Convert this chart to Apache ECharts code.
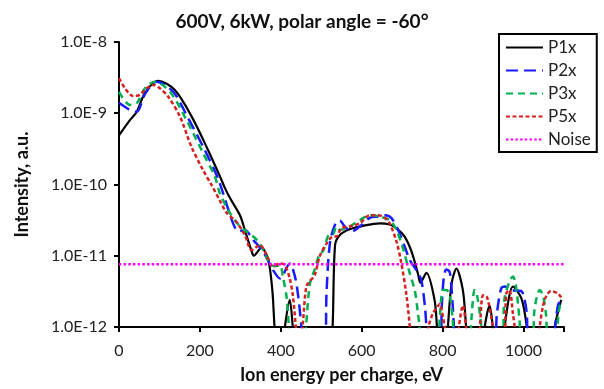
<!DOCTYPE html>
<html>
<head>
<meta charset="utf-8">
<script src="https://cdn.jsdelivr.net/npm/echarts@6/dist/echarts.min.js"></script>
<style>
html,body{margin:0;padding:0;background:#fff;}
#chart{width:604px;height:389px;}
</style>
</head>
<body>
<div id="chart"></div>
<script>
// Data: [ion energy per charge (eV), intensity (a.u.)]
// Values below the 1.0E-12 axis floor are placeholders that fall off the plot.
const titleText = "600V, 6kW, polar angle = -60°";
const xTicks = [0, 200, 400, 600, 800, 1000];
const yTicks = [1e-12, 1e-11, 1e-10, 1e-9, 1e-8];
const noiseLevel = 7.6e-12;

const p1x = [
  [0,4.9e-10],[27,8.0e-10],[44,1.05e-9],[64,1.92e-9],[96,2.86e-9],[138,2.12e-9],[180,8.9e-10],
  [220,3.05e-10],[249,1.32e-10],[262,8.9e-11],[274,6.5e-11],[299,3.7e-11],[311,2.3e-11],
  [328,1.15e-11],[333,1.0e-11],[352,1.3e-11],[369,8.7e-12],[379,3.3e-12],[384,1.1e-12],[388,5e-13],
  [405,5e-13],[410,1.0e-12],[422,2.4e-12],[429,1.1e-12],[433,5e-13],
  [522,5e-13],[528,1.0e-12],[534,1.4e-11],[546,1.95e-11],[570,2.35e-11],[603,2.63e-11],
  [644,2.85e-11],[669,2.75e-11],[686,2.43e-11],[706,1.86e-11],[723,1.15e-11],[739,5.6e-12],
  [745,4.2e-12],[760,5.75e-12],[780,2.4e-12],[786,1.0e-12],[790,5e-13],
  [809,5e-13],[813,1.0e-12],[822,4.0e-12],[834,6.6e-12],[850,3.3e-12],[858,1.0e-12],[862,5e-13],
  [900,5e-13],[904,1.0e-12],[916,2.0e-12],[924,1.0e-12],[928,5e-13],
  [949,5e-13],[953,1.0e-12],[974,3.7e-12],[995,2.5e-12],[1008,1.0e-12],[1012,5e-13],
  [1073,5e-13],[1077,1.0e-12],[1093,2.4e-12]
];
const p2x = [
  [0,1.4e-9],[27,1.11e-9],[44,1.05e-9],[64,1.85e-9],[93,2.77e-9],[134,2.0e-9],[171,8.5e-10],
  [212,3.05e-10],[245,1.2e-10],[282,2.85e-11],[295,2.2e-11],[311,2.3e-11],[332,1.66e-11],
  [356,1.15e-11],[381,6.3e-12],[398,4.8e-12],[422,7.8e-12],[435,5.1e-12],[443,2.7e-12],
  [451,1.0e-12],[455,5e-13],
  [509,5e-13],[513,3.0e-12],[522,1.6e-11],[537,3.0e-11],[546,3.1e-11],[558,2.57e-11],
  [575,2.19e-11],[595,2.57e-11],[620,3.4e-11],[640,3.55e-11],[657,3.7e-11],[673,3.4e-11],
  [690,2.3e-11],[706,1.35e-11],[719,8.7e-12],[735,6.3e-12],[747,4.6e-12],[756,2.0e-12],
  [760,1.0e-12],[764,5e-13],
  [794,5e-13],[798,2.0e-12],[803,5.0e-12],[809,6.4e-12],[817,6.0e-12],[821,4.1e-12],
  [825,1.95e-12],[828,1.0e-12],[832,5e-13],
  [928,5e-13],[934,1.5e-12],[945,3.5e-12],[955,3.7e-12],[965,3.3e-12],[994,3.2e-12],
  [1002,2.5e-12],[1008,1.55e-12],[1012,5e-13],
  [1070,5e-13],[1078,1.0e-12],[1085,2.0e-12],[1093,2.5e-12]
];
const p3x = [
  [0,2.0e-9],[27,1.31e-9],[44,1.38e-9],[64,2.24e-9],[89,2.77e-9],[126,2.0e-9],[167,8.0e-10],
  [208,2.75e-10],[237,1.29e-10],[249,7.6e-11],[274,4.0e-11],[299,2.57e-11],[315,2.19e-11],
  [332,1.86e-11],[348,1.48e-11],[369,8.7e-12],[385,7.1e-12],[398,7.4e-12],[405,5.1e-12],
  [414,2.7e-12],[420,1.0e-12],[425,5e-13],
  [455,5e-13],[462,1.0e-12],[472,4.1e-12],[484,6.5e-12],[496,1.07e-11],[504,1.15e-11],
  [521,2.0e-11],[529,2.0e-11],[537,2.57e-11],[546,2.3e-11],[570,2.57e-11],[595,3.16e-11],
  [620,3.7e-11],[644,3.55e-11],[669,3.16e-11],[686,2.3e-11],[702,1.26e-11],[719,5.6e-12],
  [731,3.3e-12],[739,1.55e-12],[743,1.0e-12],[748,5e-13],
  [788,5e-13],[793,1.4e-12],[801,3.3e-12],[809,3.3e-12],[817,2.95e-12],[825,1.26e-12],[829,5e-13],
  [866,5e-13],[871,1.26e-12],[879,3.3e-12],[885,2.8e-12],[896,1.0e-12],[900,5e-13],
  [948,5e-13],[953,2.5e-12],[974,5.1e-12],[980,4.2e-12],[990,1.26e-12],[994,5e-13],
  [1022,5e-13],[1027,1.74e-12],[1040,3.3e-12],[1048,2.8e-12],[1056,1.4e-12],[1060,5e-13],
  [1080,5e-13],[1086,1.5e-12],[1093,2.4e-12]
];
const p5x = [
  [0,3.1e-9],[15,2.24e-9],[35,1.74e-9],[52,1.82e-9],[68,2.24e-9],[85,2.5e-9],[101,2.24e-9],
  [122,1.7e-9],[151,8.9e-10],[179,3.4e-10],[208,1.58e-10],[229,9.8e-11],[249,6.0e-11],
  [266,4.0e-11],[290,3.0e-11],[311,1.95e-11],[328,1.2e-11],[348,1.41e-11],[365,1.02e-11],
  [381,7.1e-12],[398,7.8e-12],[410,7.4e-12],[422,4.8e-12],[430,2.7e-12],[437,1.0e-12],[441,5e-13],
  [450,5e-13],[455,1.2e-12],[463,3.7e-12],[472,4.4e-12],[484,5.4e-12],[496,9.8e-12],
  [513,1.48e-11],[529,1.86e-11],[537,1.86e-11],[550,2.45e-11],[570,2.57e-11],[595,2.85e-11],
  [620,3.7e-11],[640,3.7e-11],[657,3.4e-11],[669,2.85e-11],[686,1.58e-11],[698,7.8e-12],
  [710,2.95e-12],[719,1.0e-12],[723,5e-13],
  [760,5e-13],[765,1.0e-12],[776,1.55e-12],[788,1.95e-12],[793,2.1e-12],[797,1.8e-12],
  [805,1.0e-12],[809,5e-13],
  [835,5e-13],[840,1.0e-12],[850,2.0e-12],[858,1.0e-12],[862,5e-13],
  [888,5e-13],[893,1.2e-12],[900,2.8e-12],[910,2.6e-12],[924,1.0e-12],[928,5e-13],
  [952,5e-13],[957,2.95e-12],[965,3.3e-12],[974,1.5e-12],[978,1.0e-12],[982,5e-13],
  [1036,5e-13],[1040,1.0e-12],[1048,1.95e-12],[1056,2.7e-12],[1068,3.2e-12],[1085,2.95e-12],[1093,2.6e-12]
];
const noise = [[0, noiseLevel], [1100, noiseLevel]];

const FONT = 'Lato, "Open Sans", sans-serif';
const chart = echarts.init(document.getElementById('chart'), null, {renderer: 'canvas'});

function lineSeries(name, data, color, dash, width) {
  return {
    name: name, type: 'line', data: data, symbol: 'none', showSymbol: false,
    smooth: 0.3, clip: true, animation: false,
    lineStyle: {color: color, width: width, type: dash, cap: 'butt'},
    itemStyle: {color: color}
  };
}

chart.setOption({
  animation: false,
  backgroundColor: '#fff',
  title: {
    text: titleText, left: 'center', top: 7,
    textStyle: {fontFamily: FONT, fontSize: 19, fontWeight: 'bold', color: '#111'}
  },
  legend: {
    orient: 'vertical', left: 499, top: 34,
    padding: [5, 6, 4, 6], itemGap: 6, itemWidth: 37, itemHeight: 14,
    borderColor: '#000', borderWidth: 2, backgroundColor: '#fff',
    itemStyle: {opacity: 0},
    textStyle: {fontFamily: FONT, fontSize: 17, color: '#222'},
    data: ['P1x', 'P2x', 'P3x', 'P5x', 'Noise']
  },
  grid: {left: 119, right: 40, top: 42, bottom: 62, containLabel: false},
  xAxis: {
    type: 'value', min: 0, max: 1100, interval: 200,
    name: 'Ion energy per charge, eV', nameLocation: 'middle', nameGap: 39,
    nameTextStyle: {fontFamily: FONT, fontSize: 18, fontWeight: 'bold', color: '#111'},
    axisLine: {lineStyle: {color: '#000', width: 2}},
    axisTick: {show: true, length: 5, inside: false, lineStyle: {color: '#000', width: 2}},
    axisLabel: {fontFamily: FONT, fontSize: 16, color: '#222', margin: 16,
      formatter: function (v) { return xTicks.indexOf(v) >= 0 ? String(v) : ''; }},
    splitLine: {show: false}
  },
  yAxis: {
    type: 'log', logBase: 10, min: yTicks[0], max: yTicks[yTicks.length - 1],
    name: 'Intensity, a.u.', nameLocation: 'middle', nameGap: 88, nameRotate: 90,
    nameTextStyle: {fontFamily: FONT, fontSize: 18, fontWeight: 'bold', color: '#111'},
    axisLine: {show: true, lineStyle: {color: '#000', width: 2}},
    axisTick: {show: true, length: 5, inside: false, lineStyle: {color: '#000', width: 2}},
    axisLabel: {fontFamily: FONT, fontSize: 16, color: '#222', margin: 12,
      formatter: function (v) { return Number(v).toExponential(1).toUpperCase(); }},
    splitLine: {show: false}, minorTick: {show: false}
  },
  series: [
    lineSeries('P1x', p1x, '#000000', 'solid', 2.2),
    lineSeries('P2x', p2x, '#1a1aff', [12, 6], 2.5),
    lineSeries('P3x', p3x, '#00b050', [7, 5], 2.5),
    lineSeries('P5x', p5x, '#d42020', [4, 2.5], 2.5),
    lineSeries('Noise', noise, '#ff00ff', [2.5, 2.2], 2.5)
  ]
});
</script>
</body>
</html>
